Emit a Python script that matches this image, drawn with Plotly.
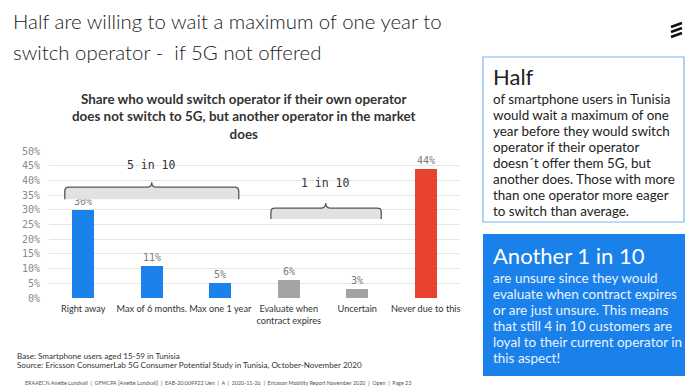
import plotly.graph_objects as go

W, H = 700, 391

# ---- data ----
categories = ["Right away", "Max of 6 months.", "Max one 1 year",
              "Evaluate when<br>contract expires", "Uncertain", "Never due to this"]
values = [30, 11, 5, 6, 3, 44]
groups = ["switch", "switch", "switch", "unsure", "unsure", "never"]
y_ticks = [0, 5, 10, 15, 20, 25, 30, 35, 40, 45, 50]
y_tick_labels = [f"{v}%" for v in y_ticks]

bracket_labels = ["5 in 10", "1 in 10"]
# (start, end, centre) in category units; (bottom, line, peak, label) in %
bracket_x = [(-0.27, 2.27, 1.0), (2.74, 4.35, 3.54)]
bracket_y = [(33.6, 37.7, 39.4, 45.2), (26.9, 30.6, 32.3, 39.1)]

title_lines = ["Half are willing to wait a maximum of one year to",
               "switch operator -  if 5G not offered"]
chart_title = "Share who would switch operator if their own operator<br>does not switch to 5G, but another operator in the market<br>does"
box1_head = "Half"
box1_lines = ["of smartphone users in Tunisia", "would wait a maximum of one",
              "year before they would switch", "operator if their operator",
              "doesn´t offer them 5G, but", "another does. Those with more",
              "than one operator more eager", "to switch than average."]
box2_head = "Another 1 in 10"
box2_lines = ["are unsure since they would", "evaluate when contract expires",
              "or are just unsure. This means", "that still 4 in 10 customers are",
              "loyal to their current operator in", "this aspect!"]
footer_base = "Base: Smartphone users aged 15-59 in Tunisia"
footer_source = "Source: Ericsson ConsumerLab 5G Consumer Potential Study in Tunisia, October-November 2020"
footer_small = "ERAAECN Anette Lundvall  |  GFMCPA [Anette Lundvall]  |  EAB-20:009922 Uen  |  A  |  2020-11-26  |  Ericsson Mobility Report November 2020  |  Open  |  Page 23"

colors = {"switch": "#1a82ea", "unsure": "#a3a3a3", "never": "#e8432f"}

SANS = "Lato"
MONO = "DejaVu Sans Mono"


def px(x):
    return x / W


def py(y):
    return 1 - y / H


xs = list(range(len(categories)))
fig = go.Figure()
fig.add_trace(go.Bar(
    x=xs, y=values, width=0.32,
    marker=dict(color=[colors[g] for g in groups], line=dict(width=0)),
    text=[f"{v}%" for v in values], textposition="outside",
    textfont=dict(family=MONO, size=10, color="#7a7a7a"),
    cliponaxis=False, showlegend=False, hoverinfo="skip",
))

shapes = []
annotations = []

# brackets
for (x0, x1, xc), (yb, yl, yp, ylab), lab in zip(bracket_x, bracket_y, bracket_labels):
    rx = 0.06
    ry = (yl - yb) * 0.35
    shapes.append(dict(type="rect", xref="x", yref="y", x0=x0, x1=x1, y0=yb, y1=yl,
                       fillcolor="#e2e2e2", line=dict(width=0), layer="above"))
    path = (f"M {x0},{yb} L {x0},{yl - ry} Q {x0},{yl} {x0 + rx},{yl} "
            f"L {xc - rx},{yl} Q {xc},{yl} {xc},{yp} Q {xc},{yl} {xc + rx},{yl} "
            f"L {x1 - rx},{yl} Q {x1},{yl} {x1},{yl - ry} L {x1},{yb}")
    shapes.append(dict(type="path", xref="x", yref="y", path=path,
                       line=dict(color="#555555", width=1.3), layer="above"))
    annotations.append(dict(x=xc, y=ylab, xref="x", yref="y", text=lab, showarrow=False,
                            font=dict(family=MONO, size=11.5, color="#333333")))

# main title
for i, t in enumerate(title_lines):
    annotations.append(dict(x=px(11), y=py(21 + 31 * i), xref="paper", yref="paper",
                            text=t, showarrow=False, xanchor="left", yanchor="middle",
                            font=dict(family=SANS, size=20.4, color="#1a1a1a", weight=300)))

# chart title
annotations.append(dict(x=px(244), y=py(116), xref="paper", yref="paper", text=chart_title,
                        showarrow=False, xanchor="center", yanchor="middle", align="center",
                        font=dict(family=SANS, size=13.4, color="#333333", weight=700)))

# box 1
shapes.append(dict(type="rect", xref="paper", yref="paper", x0=px(483), x1=px(684),
                   y0=py(222), y1=py(57), line=dict(color="#7ab4f0", width=1.2),
                   fillcolor="white"))
annotations.append(dict(x=px(491), y=py(76), xref="paper", yref="paper", text=box1_head,
                        showarrow=False, xanchor="left", yanchor="middle",
                        font=dict(family=SANS, size=22, color="#222222")))
for i, t in enumerate(box1_lines):
    annotations.append(dict(x=px(491), y=py(99 + 16 * i), xref="paper", yref="paper", text=t,
                            showarrow=False, xanchor="left", yanchor="middle",
                            font=dict(family=SANS, size=13.4, color="#222222")))

# box 2
shapes.append(dict(type="rect", xref="paper", yref="paper", x0=px(483), x1=px(685),
                   y0=py(376), y1=py(234), line=dict(width=0), fillcolor="#1a80ea"))
annotations.append(dict(x=px(491), y=py(255), xref="paper", yref="paper", text=box2_head,
                        showarrow=False, xanchor="left", yanchor="middle",
                        font=dict(family=SANS, size=22, color="white")))
for i, t in enumerate(box2_lines):
    annotations.append(dict(x=px(491), y=py(278 + 16 * i), xref="paper", yref="paper", text=t,
                            showarrow=False, xanchor="left", yanchor="middle",
                            font=dict(family=SANS, size=13.5, color="#eaf3ff")))

# footers
annotations.append(dict(x=px(15), y=py(356), xref="paper", yref="paper", text=footer_base,
                        showarrow=False, xanchor="left", yanchor="middle",
                        font=dict(family=SANS, size=8.1, color="#333333")))
annotations.append(dict(x=px(15), y=py(365), xref="paper", yref="paper", text=footer_source,
                        showarrow=False, xanchor="left", yanchor="middle",
                        font=dict(family=SANS, size=8.1, color="#333333")))
annotations.append(dict(x=px(23), y=py(383), xref="paper", yref="paper", text=footer_small,
                        showarrow=False, xanchor="left", yanchor="middle",
                        font=dict(family=SANS, size=5.4, color="#555555")))

# logo (three slanted bars)
for k in range(3):
    shapes.append(dict(type="line", xref="paper", yref="paper",
                       x0=px(671), y0=py(27 + 5 * k), x1=px(682), y1=py(23 + 5 * k),
                       line=dict(color="#111111", width=2.6)))

fig.update_layout(
    width=W, height=H, margin=dict(l=0, r=0, t=0, b=0),
    paper_bgcolor="white", plot_bgcolor="white",
    xaxis=dict(domain=[px(49), px(460)], range=[-0.5, 5.5], tickvals=xs, ticktext=categories,
               showgrid=False, zeroline=False, showline=False, ticks="", tickangle=0,
               automargin=False, ticklabelstandoff=4,
               tickfont=dict(family=SANS, size=9.2, color="#333333")),
    yaxis=dict(domain=[py(298), py(151)], range=[0, 50], tickvals=y_ticks,
               ticktext=y_tick_labels, showgrid=True, gridcolor="#e6e6e6", gridwidth=1,
               zeroline=False, showline=False, ticks="", automargin=False,
               ticklabelstandoff=8,
               tickfont=dict(family=MONO, size=10, color="#8a8a8a")),
    shapes=shapes, annotations=annotations, bargap=0,
)

fig.write_html("out.html", config={"displayModeBar": False},
               post_script="document.body.style.margin='0';document.body.style.overflow='hidden';")
